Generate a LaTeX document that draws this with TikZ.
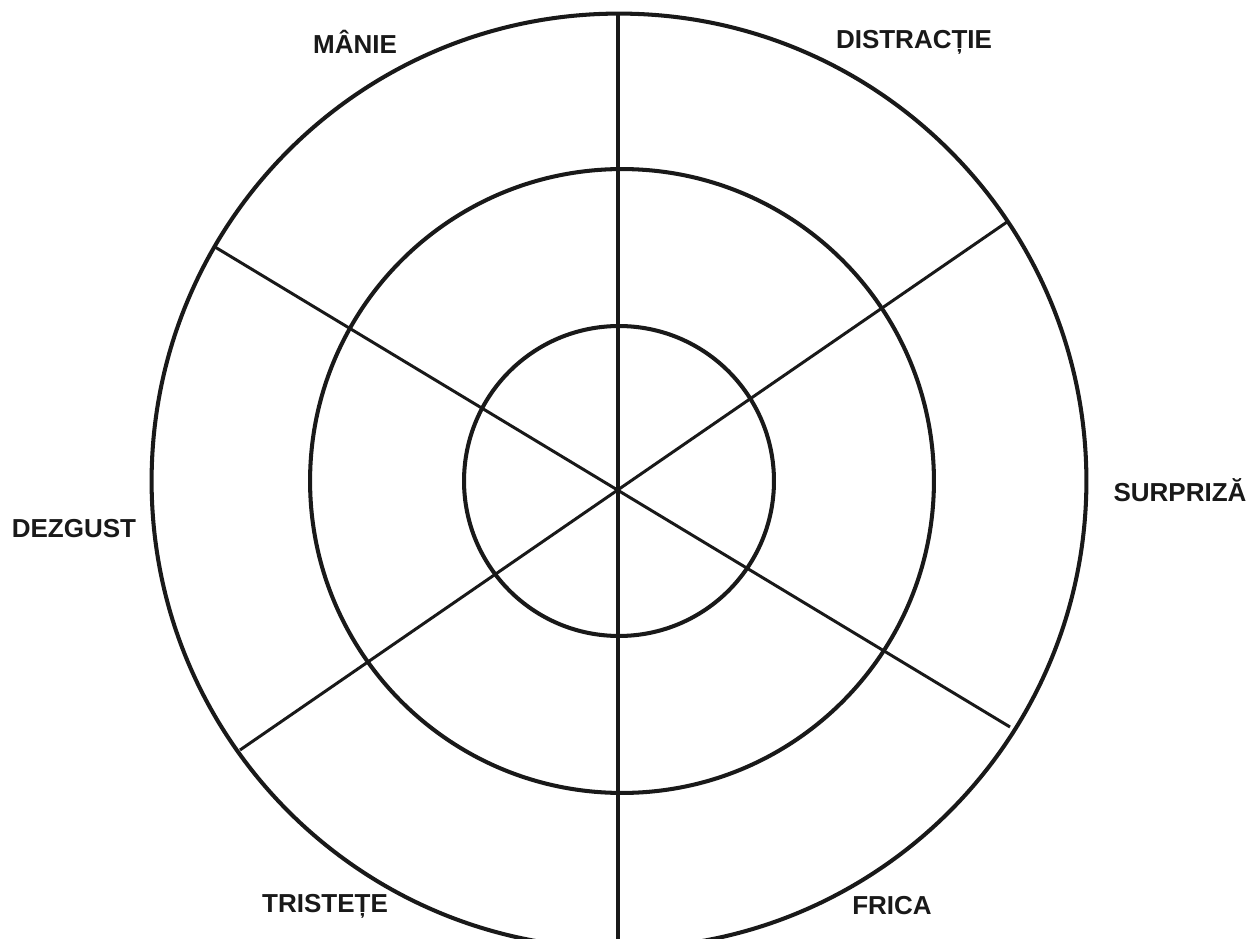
\documentclass[tikz,border=0pt]{standalone}
\usepackage{fontspec}
\setmainfont{Liberation Sans}
\begin{document}
\begin{tikzpicture}[x=0.02cm,y=-0.02cm,
  ring/.style={line width=2.3pt,draw=black!90},
  spoke/.style={line width=1.7pt,draw=black!90},
  vspoke/.style={line width=2.0pt,draw=black!90},
  lbl/.style={font=\bfseries\fontsize{14.8}{16}\selectfont,text=black!90,inner sep=0pt}]
\clip (0,0) rectangle (1251,939);
\useasboundingbox (0,0) rectangle (1251,939);
\coordinate (c) at (619,481);
\coordinate (c2) at (622,481);
\coordinate (x) at (618,490);
\draw[ring] (c) circle (9.35cm);
\draw[ring] (c2) circle (6.24cm);
\draw[ring] (c) circle (3.1cm);
\coordinate (top) at (618,14);
\coordinate (bot) at (618,945);
\coordinate (ul) at (215,247);
\coordinate (lr) at (1010,727);
\coordinate (ur) at (1007,222);
\coordinate (ll) at (240,750);
\draw[vspoke] (top) -- (bot);
\draw[spoke] (ul) -- (lr);
\draw[spoke] (ur) -- (ll);
\node[lbl] (manie) at (355,42) {MÂNIE};
\node[lbl] (distr) at (914,42) {DISTRACȚIE};
\node[lbl] (surp) at (1180,490) {SURPRIZĂ};
\node[lbl] (dezg) at (74,529) {DEZGUST};
\node[lbl] (trist) at (325,906) {TRISTEȚE};
\node[lbl] (frica) at (892,906) {FRICA};
\end{tikzpicture}
\end{document}
